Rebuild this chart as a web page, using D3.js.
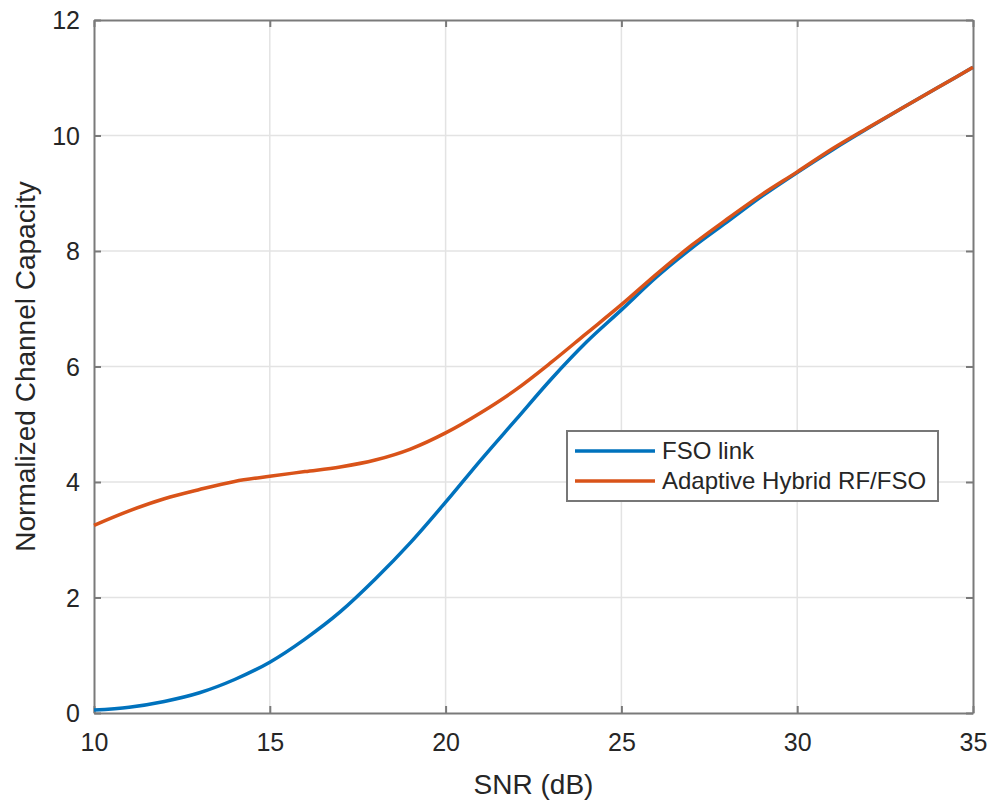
<!DOCTYPE html>
<html>
<head>
<meta charset="utf-8">
<script src="https://cdn.jsdelivr.net/npm/d3@7"></script>
<style>
  html, body { margin: 0; padding: 0; background: #fff; }
  svg { display: block; font-family: "Liberation Sans", Arial, Helvetica, sans-serif; }
</style>
</head>
<body>
<svg id="chart" width="993" height="804"></svg>
<script>
const snr = [10,11,12,13,14,15,16,17,18,19,20,21,22,23,24,25,26,27,28,29,30,31,32,33,34,35];
const fsoLink = [0.05,0.10,0.20,0.35,0.58,0.88,1.28,1.75,2.32,2.95,3.65,4.38,5.08,5.78,6.42,6.98,7.55,8.05,8.50,8.95,9.36,9.75,10.12,10.48,10.83,11.18];
const hybrid = [3.25,3.50,3.71,3.87,4.01,4.10,4.18,4.26,4.38,4.57,4.85,5.20,5.60,6.07,6.57,7.07,7.60,8.10,8.55,8.98,9.37,9.77,10.13,10.48,10.83,11.18];
const xTicks = [10,15,20,25,30,35];
const yTicks = [0,2,4,6,8,10,12];
const seriesNames = ["FSO link", "Adaptive Hybrid RF/FSO"];
const seriesColors = ["#0072BD", "#D95319"];
const xLabel = "SNR (dB)";
const yLabel = "Normalized Channel Capacity";

const svg = d3.select("#chart");
const L = 94, R = 973, T = 20, B = 713;
const x = d3.scaleLinear().domain([10,35]).range([L,R]);
const y = d3.scaleLinear().domain([0,12]).range([B,T]);

// grid
const grid = svg.append("g");
grid.selectAll("line.gx").data(xTicks.slice(1,-1)).join("line")
  .attr("x1", d=>x(d)).attr("x2", d=>x(d)).attr("y1", T).attr("y2", B)
  .attr("stroke", "#e3e3e3").attr("stroke-width", 1.5);
grid.selectAll("line.gy").data(yTicks.slice(1,-1)).join("line")
  .attr("y1", d=>y(d)).attr("y2", d=>y(d)).attr("x1", L).attr("x2", R)
  .attr("stroke", "#e3e3e3").attr("stroke-width", 1.5);

// axes
const axisColor = "#7a7a7a";
const tickLen = 7;
const xb = svg.append("g").attr("transform", `translate(0,${B})`)
  .call(d3.axisBottom(x).tickValues(xTicks).tickSizeInner(-tickLen).tickSizeOuter(0).tickPadding(20));
const xt = svg.append("g").attr("transform", `translate(0,${T})`)
  .call(d3.axisTop(x).tickValues(xTicks).tickSizeInner(-tickLen).tickSizeOuter(0).tickFormat(""));
const yl = svg.append("g").attr("transform", `translate(${L},0)`)
  .call(d3.axisLeft(y).tickValues(yTicks).tickSizeInner(-tickLen).tickSizeOuter(0).tickPadding(14));
const yr = svg.append("g").attr("transform", `translate(${R},0)`)
  .call(d3.axisRight(y).tickValues(yTicks).tickSizeInner(-tickLen).tickSizeOuter(0).tickFormat(""));
[xb,xt,yl,yr].forEach(g => {
  g.select(".domain").attr("stroke", axisColor).attr("stroke-width", 2);
  g.selectAll(".tick line").attr("stroke", axisColor).attr("stroke-width", 2);
  g.selectAll(".tick text").attr("fill", "#262626").attr("font-size", 25)
    .attr("font-family", "'Liberation Sans', Arial, sans-serif");
});
xb.selectAll(".tick text").attr("dy", "0.71em");
yl.selectAll(".tick text").attr("dy", "0.35em");

// lines
const line = d3.line().curve(d3.curveMonotoneX).x((d,i)=>x(snr[i])).y(d=>y(d));
[fsoLink, hybrid].forEach((s, k) => {
  svg.append("path").datum(s).attr("d", line)
    .attr("fill", "none").attr("stroke", seriesColors[k])
    .attr("stroke-width", 3.5).attr("stroke-linejoin", "round");
});

// labels
svg.append("text").attr("x", (L+R)/2).attr("y", 794).attr("text-anchor", "middle")
  .attr("font-size", 28).attr("fill", "#262626").text(xLabel);
svg.append("text").attr("transform", `translate(35,${(T+B)/2}) rotate(-90)`)
  .attr("text-anchor", "middle").attr("font-size", 28).attr("fill", "#262626").text(yLabel);

// legend
const lg = svg.append("g");
lg.append("rect").attr("x", 567).attr("y", 431).attr("width", 371).attr("height", 70)
  .attr("fill", "#fff").attr("stroke", "#777").attr("stroke-width", 2);
seriesNames.forEach((name, k) => {
  const yy = 451 + k*30;
  lg.append("line").attr("x1", 575).attr("x2", 655).attr("y1", yy).attr("y2", yy)
    .attr("stroke", seriesColors[k]).attr("stroke-width", 3.5);
  lg.append("text").attr("x", 662).attr("y", yy).attr("dy", "0.35em")
    .attr("font-size", 24).attr("fill", "#262626").text(name);
});
</script>
</body>
</html>
